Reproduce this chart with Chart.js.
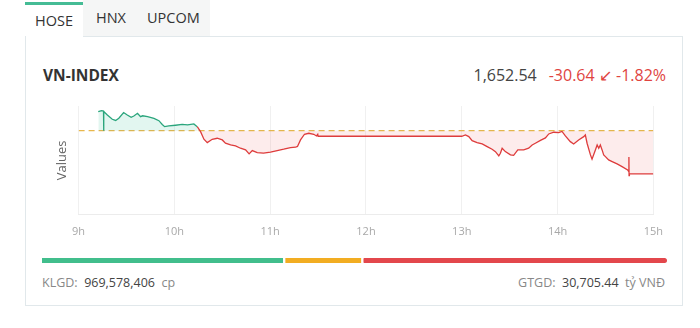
<!DOCTYPE html>
<html><head><meta charset="utf-8">
<script src="https://cdn.jsdelivr.net/npm/chart.js@4.4.1/dist/chart.umd.min.js"></script>
<style>
html,body{margin:0;padding:0;background:#fff;width:700px;height:328px;overflow:hidden;font-family:"Open Sans",sans-serif;}
.abs{position:absolute;white-space:nowrap;line-height:20px;}
</style></head><body>
<!-- tabs -->
<div class="abs" style="left:83px;top:0;width:127px;height:36px;background:#f5f6f6"></div>
<div class="abs" style="left:25px;top:2px;width:58px;height:3px;background:#45bc95"></div>
<div class="abs" style="left:35px;top:11px;font-size:14.5px;color:#333">HOSE</div>
<div class="abs" style="left:96px;top:7.5px;font-size:14.5px;color:#333">HNX</div>
<div class="abs" style="left:147px;top:7.5px;font-size:14.5px;color:#333">UPCOM</div>
<!-- card -->
<div class="abs" style="left:25px;top:36px;width:656px;height:268px;border:1px solid #e1e8eb;"></div>
<div class="abs" style="left:26px;top:30px;width:57px;height:9px;background:#fff"></div>
<div class="abs" style="left:43px;top:64.5px;font-size:15.5px;font-weight:700;color:#333">VN-INDEX</div>
<div class="abs" style="right:34px;top:65px;font-size:16px;color:#444"><span id="lastv"></span><span id="chg" style="color:#e0443f;margin-left:12px"></span></div>
<!-- chart -->
<div style="position:absolute;left:51px;top:100px;width:622px;height:148px;"><canvas id="c"></canvas></div>
<!-- breadth bar -->
<div style="position:absolute;left:42px;top:258px;width:625px;height:5px;"><canvas id="b"></canvas></div>
<div class="abs" style="left:42px;top:273px;font-size:12.5px;color:#888">KLGD:&nbsp; <span style="color:#444">969,578,406</span>&nbsp; cp</div>
<div class="abs" style="right:35px;top:273px;font-size:12.5px;color:#888">GTGD:&nbsp; <span style="color:#444">30,705.44</span>&nbsp; tỷ VNĐ</div>
<script>
// minutes after 9:00
const times = [12.3, 14.4, 15.6, 15.7, 15.8, 18.0, 21.1, 23.2, 25.2, 28.2, 30.5, 32.9, 34.6, 36.9, 38.8, 40.1, 43.2, 47.2, 50.3, 52.4, 53.9, 56.5, 60.7, 64.9, 68.3, 72.2, 74.3, 76.4, 78.5, 80.6, 83.7, 86.8, 90.0, 92.0, 95.2, 98.3, 101.4, 104.6, 106.8, 108.8, 111.9, 115.8, 120.2, 124.4, 128.5, 132.7, 135.9, 137.1, 139.0, 141.5, 144.2, 147.3, 149.0, 149.8, 150.0,
  240.0, 242.3, 244.4, 246.5, 249.6, 252.8, 255.9, 259.0, 261.1, 263.2, 264.2, 265.3, 267.3, 270.5, 272.5, 275.1, 278.8, 281.9, 284.1, 286.1, 289.3, 292.4, 294.5, 297.6, 300.7, 302.8, 304.9, 308.0, 310.1, 313.2, 316.4, 317.4, 318.5, 320.6, 321.6, 323.7, 324.8, 325.8, 326.8, 327.9, 328.9, 330.0, 332.0, 334.2, 337.3, 340.4, 343.9, 344.6, 344.7, 344.8, 345.0, 360.0];
const values = [1696.65, 1697.36, 1697.15, 1683.18, 1696.79, 1694.31, 1691.26, 1690.41, 1691.97, 1696.08, 1694.31, 1692.68, 1693.60, 1695.52, 1693.11, 1693.74, 1693.11, 1691.83, 1690.27, 1687.58, 1686.02, 1686.51, 1687.01, 1687.58, 1687.36, 1687.93, 1686.02, 1682.47, 1677.08, 1674.67, 1677.08, 1677.79, 1676.59, 1674.25, 1673.04, 1672.33, 1670.70, 1669.50, 1666.66, 1669.00, 1667.58, 1667.16, 1667.87, 1669.00, 1669.99, 1671.13, 1671.41, 1671.98, 1676.59, 1680.63, 1681.34, 1680.63, 1679.42, 1680.63, 1679.21,
  1679.21, 1680.13, 1678.93, 1676.09, 1674.67, 1673.75, 1671.84, 1669.99, 1668.29, 1665.24, 1667.16, 1670.70, 1668.29, 1665.95, 1665.60, 1669.50, 1669.50, 1670.70, 1673.04, 1674.25, 1676.23, 1678.00, 1680.84, 1682.05, 1681.76, 1682.61, 1679.42, 1675.38, 1673.75, 1676.59, 1678.93, 1680.13, 1674.25, 1665.95, 1662.90, 1669.50, 1673.04, 1670.70, 1673.04, 1669.50, 1665.95, 1664.75, 1662.41, 1661.20, 1659.57, 1657.66, 1655.32, 1654.11, 1664.53, 1651.28, 1652.54, 1652.54];
const refValue = 1683.18;
const lastValue = 1652.54;
const changeValue = -30.64;
const changePct = -1.82;
const tickMinutes = [0, 60, 120, 180, 240, 300, 360];
const tickLabels = ['9h', '10h', '11h', '12h', '13h', '14h', '15h'];
const breadthLabels = ['Tăng', 'Đứng giá', 'Giảm'];
const breadthCounts = [155, 50, 195];
const breadthColors = ['#41be8c', '#f2ad22', '#e3474c'];

document.getElementById('lastv').textContent = lastValue.toLocaleString('en-US', {minimumFractionDigits: 2});
document.getElementById('chg').textContent = changeValue.toFixed(2) + ' \u2199 ' + changePct.toFixed(2) + '%';

const GREEN = '#2aa57c', RED = '#de3c3c';
new Chart(document.getElementById('c'), {
  type: 'line',
  data: {
    datasets: [{
      data: times.map((t, i) => ({x: t, y: values[i]})),
      borderWidth: 1.3,
      pointRadius: 0,
      tension: 0,
      borderColor: RED,
      segment: { borderColor: ctx => ctx.p1.parsed.y >= refValue ? GREEN : RED },
      fill: { target: { value: refValue }, above: 'rgba(72,196,160,0.16)', below: 'rgba(238,110,110,0.13)' }
    }, {
      data: [{x: 0, y: refValue}, {x: 360, y: refValue}],
      borderColor: '#e8b74c',
      borderWidth: 1.3,
      borderDash: [6, 4],
      pointRadius: 0,
      fill: false
    }]
  },
  options: {
    responsive: true, maintainAspectRatio: false, animation: false,
    layout: { padding: { top: 6, right: 4, left: 0, bottom: 0 } },
    plugins: { legend: { display: false }, tooltip: { enabled: false } },
    scales: {
      x: {
        type: 'linear', min: 0, max: 360,
        afterBuildTicks: s => { s.ticks = tickMinutes.map(v => ({value: v})); },
        ticks: { callback: v => tickLabels[tickMinutes.indexOf(v)], color: '#a8a8a8', font: { size: 11, family: 'Open Sans' }, padding: 10, maxRotation: 0, autoSkip: false },
        grid: { color: '#f0f0f0', drawTicks: false },
        border: { color: '#ececec' }
      },
      y: {
        min: 1623.4, max: 1700.7,
        ticks: { display: false },
        grid: { display: false, drawTicks: false },
        border: { display: false },
        title: { display: true, text: 'Values', color: '#666', font: { size: 13, family: 'Open Sans' }, padding: { top: 3, bottom: 9 } }
      }
    }
  }
});

new Chart(document.getElementById('b'), {
  type: 'bar',
  data: {
    labels: ['breadth'],
    datasets: breadthCounts.map((v, i) => ({
      label: breadthLabels[i], data: [v], backgroundColor: breadthColors[i],
      borderColor: '#fff', borderWidth: {left: i === 0 ? 0 : 1.5, right: i === 2 ? 0 : 1.5, top: 0, bottom: 0},
      borderSkipped: false, borderRadius: 2.5, barPercentage: 1, categoryPercentage: 1
    }))
  },
  options: {
    indexAxis: 'y', responsive: true, maintainAspectRatio: false, animation: false,
    layout: { padding: 0 },
    plugins: { legend: { display: false }, tooltip: { enabled: false } },
    scales: {
      x: { stacked: true, display: false, min: 0, max: breadthCounts.reduce((a, b) => a + b, 0) },
      y: { stacked: true, display: false }
    }
  }
});
</script>
</body></html>
